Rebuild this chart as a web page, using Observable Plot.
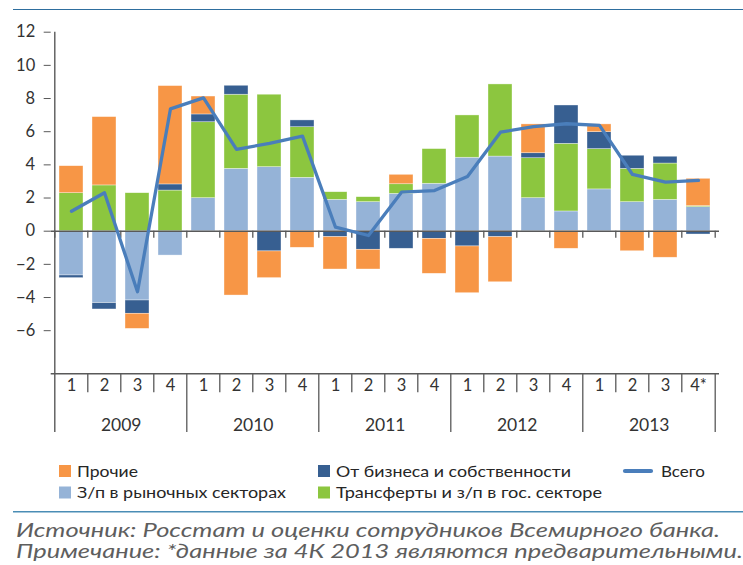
<!DOCTYPE html>
<html><head><meta charset="utf-8">
<script src="https://cdn.jsdelivr.net/npm/d3@7"></script>
<script src="https://cdn.jsdelivr.net/npm/@observablehq/plot@0.6"></script>
<style>
body{margin:0;background:#fff;width:743px;height:565px;overflow:hidden;position:relative;font-family:Lato,"Open Sans",sans-serif;}
#chart{position:absolute;left:0;top:0;}
#foot{position:absolute;left:0;top:445px;}
.hr{position:absolute;left:13px;width:730px;height:0;}
</style></head><body>
<div id="chart"></div>
<div class="hr" style="top:8.5px;border-top:1.6px solid #2e6e9e"></div>
<div id="foot"></div>
<script>
// ---- data ----
const years = ["2009", "2010", "2011", "2012", "2013"];
const quarters = ["1","2","3","4","1","2","3","4","1","2","3","4","1","2","3","4","1","2","3","4*"];
const zpMarket  = [-2.67,-4.34,-4.18,-1.47, 1.99,3.76,3.86,3.22, 1.89,1.75,2.25,2.86, 4.43,4.50,1.99,1.19, 2.52,1.75,1.89,1.45];
const transfers = [ 2.29, 2.76, 2.29, 2.45, 4.58,4.47,4.37,3.05, 0.46,0.30,0.58,2.09, 2.55,4.35,2.41,4.08, 2.43,2.01,2.19,0.06];
const business  = [-0.16,-0.38,-0.80, 0.37, 0.47,0.54,-1.22,0.41, -0.36,-1.12,-1.06,-0.46, -0.92,-0.36,0.30,2.31, 1.02,0.79,0.41,-0.20];
const other     = [ 1.63, 4.12,-0.91, 5.93, 1.08,-3.88,-1.61,-1.00, -1.95,-1.19,0.57,-2.11, -2.82,-2.72,1.74,-1.06, 0.47,-1.21,-1.60,1.65];
const total     = [ 1.20, 2.32,-3.65, 7.38, 8.04,4.93,5.30,5.73, 0.24,-0.26,2.35,2.45, 3.30,5.97,6.31,6.48, 6.38,3.42,2.96,3.06];
const yTicks = [-6,-4,-2,0,2,4,6,8,10,12];
const yDomain = [-8.6, 12];
const seriesNames  = ["З/п в рыночных секторах","Трансферты и з/п в гос. секторе","От бизнеса и собственности","Прочие"];
const seriesColors = ["#95b3d7","#8cc63f","#375f91","#f79646"];
const totalName = "Всего";
const totalColor = "#4a7ebb";
const sourceText = "Источник: Росстат и оценки сотрудников Всемирного банка.";
const noteText = "Примечание: *данные за 4К 2013 являются предварительными.";

// ---- layout ----
const W = 743, H = 445, mT = 31.7, mB = 71.7, mL = 50.7, mR = 24;
const plotH = H - mT - mB;
const keys = quarters.map((q, i) => years[Math.floor(i / 4)] + "-" + q);
const step = (W - mL - mR) / keys.length;
const seriesValues = [zpMarket, transfers, business, other];
const rows = seriesValues.flatMap((vals, s) => vals.map((v, i) => ({key: keys[i], series: seriesNames[s], value: v})));
const totalRows = total.map((v, i) => ({key: keys[i], value: v}));
const axisColor = "#595959";
const lastKey = keys[keys.length - 1];

const chart = Plot.plot({
  width: W, height: H,
  marginTop: mT, marginBottom: mB, marginLeft: mL, marginRight: mR,
  style: {fontFamily: "Lato, 'Open Sans', sans-serif", background: "white", overflow: "visible"},
  x: {type: "band", domain: keys, paddingInner: 0.28, paddingOuter: 0.14, axis: null},
  y: {domain: yDomain, axis: null},
  color: {domain: seriesNames, range: seriesColors},
  marks: [
    Plot.barY(rows, {x: "key", y: "value", fill: "series", stroke: "white", strokeWidth: 0.6, strokeOpacity: 0.6}),
    Plot.ruleY([0], {stroke: axisColor, strokeWidth: 1.4}),
    Plot.ruleX(keys, {x: d => d, y1: 0, y2: 0, dx: -step / 2, insetBottom: -7, stroke: axisColor, strokeWidth: 1.3}),
    Plot.ruleX([lastKey], {x: d => d, y1: 0, y2: 0, dx: step / 2, insetBottom: -7, stroke: axisColor, strokeWidth: 1.3}),
    Plot.ruleY([yDomain[0]], {stroke: axisColor, strokeWidth: 1.4}),
    Plot.ruleX([keys[0]], {x: d => d, dx: -step / 2, insetBottom: -58.7, stroke: axisColor, strokeWidth: 1.4}),
    Plot.ruleX(keys.filter((k, i) => i % 4 === 0 && i > 0), {x: d => d, dx: -step / 2, insetTop: plotH, insetBottom: -58.7, stroke: axisColor, strokeWidth: 1.3}),
    Plot.ruleX([lastKey], {x: d => d, dx: step / 2, insetTop: plotH, insetBottom: -58.7, stroke: axisColor, strokeWidth: 1.3}),
    Plot.ruleX(keys.filter((k, i) => i % 4 !== 0), {x: d => d, dx: -step / 2, insetTop: plotH, insetBottom: -19, stroke: axisColor, strokeWidth: 1.3}),
    Plot.line(totalRows, {x: "key", y: "value", stroke: totalColor, strokeWidth: 3.3}),
    Plot.axisY(yTicks, {tickSize: 7, tickPadding: 9, fontSize: 16.5, color: "#333", stroke: axisColor, label: null}),
    Plot.text(keys, {x: d => d, text: (d, i) => quarters[i], frameAnchor: "bottom", dy: 17, fontSize: 16.5, fill: "#333"}),
    Plot.text(keys.filter((k, i) => i % 4 === 1), {x: d => d, text: (d, i) => years[i], dx: step / 2, frameAnchor: "bottom", dy: 57, fontSize: 17.5, fill: "#333"})
  ]
});
document.getElementById("chart").appendChild(chart);

// ---- legend + caption (svg below the chart, y offsets relative to top 445) ----
const top0 = 445;
const foot = d3.select("#foot").append("svg").attr("width", W).attr("height", 565 - top0)
  .style("font-family", "Lato, 'Open Sans', sans-serif").style("overflow", "visible");
const legendItems = [
  {name: seriesNames[3], color: seriesColors[3], x: 59, y: 471, len: 61},
  {name: seriesNames[2], color: seriesColors[2], x: 318, y: 471, len: 235},
  {name: seriesNames[0], color: seriesColors[0], x: 59, y: 492.5, len: 209},
  {name: seriesNames[1], color: seriesColors[1], x: 318, y: 492.5, len: 266}
];
for (const it of legendItems) {
  foot.append("rect").attr("x", it.x).attr("y", it.y - top0 - 6).attr("width", 12).attr("height", 12).attr("fill", it.color);
  foot.append("text").attr("x", it.x + 18).attr("y", it.y - top0).attr("dy", "0.35em")
    .attr("font-size", 16).attr("fill", "#262626")
    .attr("textLength", it.len).attr("lengthAdjust", "spacingAndGlyphs").text(it.name);
}
foot.append("line").attr("x1", 625).attr("x2", 651).attr("y1", 471 - top0).attr("y2", 471 - top0)
  .attr("stroke", totalColor).attr("stroke-width", 4.2).attr("stroke-linecap", "round");
foot.append("text").attr("x", 661).attr("y", 471 - top0).attr("dy", "0.35em").attr("font-size", 16).attr("fill", "#262626")
  .attr("textLength", 44).attr("lengthAdjust", "spacingAndGlyphs").text(totalName);

foot.append("line").attr("x1", 13).attr("x2", W).attr("y1", 511.7 - top0).attr("y2", 511.7 - top0)
  .attr("stroke", "#4a8db5").attr("stroke-width", 1.4);
const capLines = [{t: sourceText, y: 537, len: 704}, {t: noteText, y: 558, len: 727}];
for (const c of capLines) {
  foot.append("text").attr("x", 16).attr("y", c.y - top0).attr("font-size", 19.5).attr("font-style", "italic")
    .attr("fill", "#5e5e5e").attr("textLength", c.len).attr("lengthAdjust", "spacingAndGlyphs").text(c.t);
}
</script>
</body></html>
